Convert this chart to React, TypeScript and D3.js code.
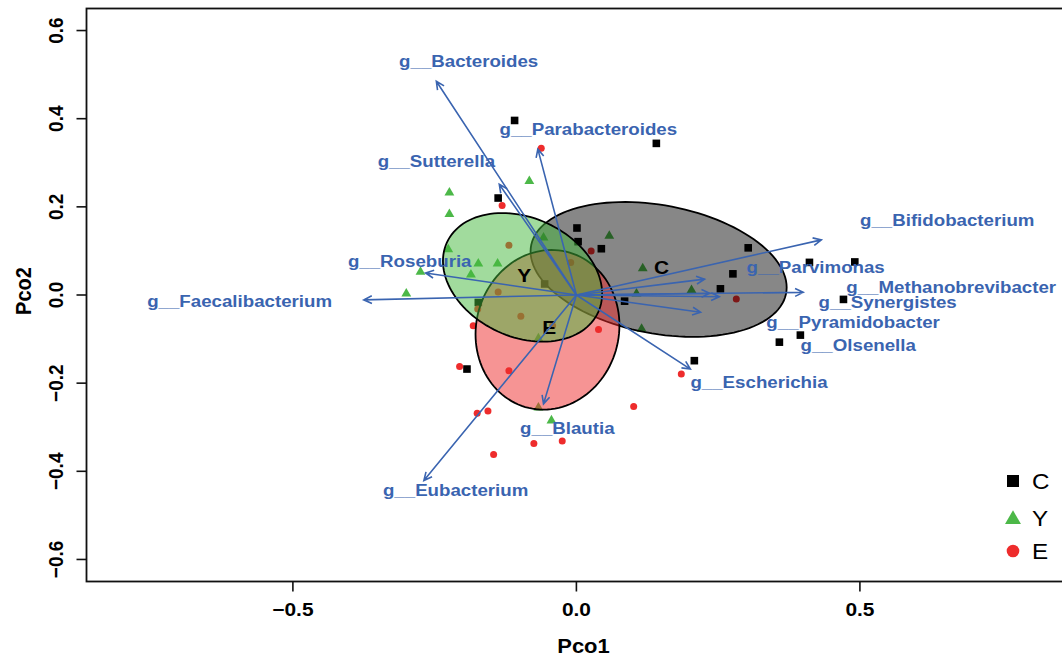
import * as d3 from 'd3';

// axis ranges and ticks
const xLim = [-0.864, 0.864];
const yLim = [-0.65, 0.65];
const xTicks = [-0.5, 0, 0.5];
const yTicks = [-0.6, -0.4, -0.2, 0, 0.2, 0.4, 0.6];

// sample scores per group (Pco1, Pco2)
const pointsC = [
  [-0.109, 0.396], [0.141, 0.344], [-0.138, 0.220], [0.001, 0.152], [0.003, 0.121],
  [0.044, 0.105], [0.303, 0.107], [0.276, 0.048], [0.254, 0.014], [0.411, 0.074],
  [0.491, 0.075], [0.471, -0.010], [0.395, -0.091], [0.358, -0.107], [0.208, -0.149],
  [-0.193, -0.168], [0.085, -0.014], [-0.173, -0.017], [-0.056, 0.025],
];
const pointsY = [
  [-0.224, 0.234], [-0.224, 0.185], [-0.083, 0.260], [-0.226, 0.105], [-0.173, 0.073],
  [-0.139, 0.073], [-0.186, 0.048], [-0.300, 0.005], [-0.275, 0.054], [-0.058, 0.132],
  [0.058, 0.136], [0.117, 0.062], [0.203, 0.013], [0.115, -0.075], [-0.044, -0.283],
  [-0.067, -0.097], [-0.067, -0.254], [0.106, 0.005],
];
const pointsE = [
  [-0.062, 0.333], [-0.131, 0.203], [-0.119, 0.113], [-0.010, 0.074], [-0.138, 0.007],
  [-0.174, -0.032], [-0.098, -0.048], [0.026, 0.100], [-0.182, -0.070], [-0.042, -0.070],
  [0.039, -0.078], [-0.206, -0.162], [-0.119, -0.172], [-0.175, -0.268], [-0.156, -0.263],
  [-0.075, -0.337], [-0.025, -0.331], [-0.146, -0.362], [0.101, -0.253], [0.185, -0.179],
  [0.282, -0.009],
];

// group ellipses: centre and covariance (sxx, syy, sxy) in data units
const groupNames = ['C', 'E', 'Y'];
const groupCentres = { C: [0.145, 0.058], E: [-0.051, -0.079], Y: [-0.095, 0.040] };
const groupCov = {
  C: [0.0510, 0.0234, -0.0092],
  E: [0.0161, 0.0328, 0.0013],
  Y: [0.0197, 0.0213, -0.0052],
};
const groupLabelPos = { C: [0.150, 0.064], Y: [-0.092, 0.045], E: [-0.048, -0.072] };

// genus vectors: arrow tip and label position (baseline centre)
const genera = [
  'g__Bacteroides', 'g__Parabacteroides', 'g__Sutterella', 'g__Roseburia',
  'g__Faecalibacterium', 'g__Bifidobacterium', 'g__Parvimonas', 'g__Methanobrevibacter',
  'g__Synergistes', 'g__Pyramidobacter', 'g__Olsenella', 'g__Escherichia',
  'g__Blautia', 'g__Eubacterium',
];
const arrowTips = [
  [-0.247, 0.485], [-0.068, 0.331], [-0.136, 0.251], [-0.266, 0.050],
  [-0.375, -0.011], [0.432, 0.125], [0.226, 0.036], [0.400, 0.006],
  [0.252, -0.004], [0.219, -0.039], [0.235, 0.004], [0.201, -0.168],
  [-0.058, -0.247], [-0.269, -0.421],
];
const labelPos = [
  [-0.190, 0.518], [0.021, 0.364], [-0.247, 0.291], [-0.294, 0.064],
  [-0.594, -0.028], [0.654, 0.157], [0.422, 0.051], [0.661, 0.004],
  [0.549, -0.030], [0.488, -0.075], [0.497, -0.128], [0.322, -0.211],
  [-0.016, -0.315], [-0.213, -0.457],
];

const BLUE = '#3a64b0';
const FONT = '"Liberation Sans", Arial, Helvetica, sans-serif';
const SX = 1.1; // the source image is slightly stretched horizontally
const fills = { C: 'rgba(0,0,0,0.47)', E: 'rgba(238,42,42,0.5)', Y: 'rgba(68,184,60,0.5)' };

export default function App() {
  const width = 1062;
  const height = 659;
  const x = d3.scaleLinear().domain(xLim).range([86.5, 1066.3]);
  const y = d3.scaleLinear().domain(yLim).range([581.5, 8.5]);

  const fmt = (v) => d3.format('.1f')(v).replace('-', '\u2212');

  const ellipse = (g) => {
    const [cx, cy] = groupCentres[g];
    const [sxx, syy, sxy] = groupCov[g];
    const l11 = Math.sqrt(sxx);
    const l21 = sxy / l11;
    const l22 = Math.sqrt(syy - l21 * l21);
    const pts = d3.range(0, 2 * Math.PI, Math.PI / 60).map(t => [
      cx + l11 * Math.cos(t),
      cy + l21 * Math.cos(t) + l22 * Math.sin(t),
    ]);
    return d3.line().x(d => x(d[0])).y(d => y(d[1])).curve(d3.curveLinearClosed)(pts);
  };

  const arrowPath = (tip) => {
    const x0 = x(0), y0 = y(0), x1 = x(tip[0]), y1 = y(tip[1]);
    const ang = Math.atan2(y1 - y0, x1 - x0);
    const len = 9, a = Math.PI / 7;
    const h1 = [x1 - len * Math.cos(ang - a), y1 - len * Math.sin(ang - a)];
    const h2 = [x1 - len * Math.cos(ang + a), y1 - len * Math.sin(ang + a)];
    return `M${x0},${y0}L${x1},${y1}M${h1[0]},${h1[1]}L${x1},${y1}L${h2[0]},${h2[1]}`;
  };

  const tri = d3.symbol().type(d3.symbolTriangle).size(42)();
  const triBig = d3.symbol().type(d3.symbolTriangle).size(110)();

  return (
    <svg width={width} height={height} style={{ position: 'absolute', left: 0, top: 0, background: '#fff' }}>
      {/* points, under the ellipses */}
      <g>
        {pointsC.map((d, i) => (
          <rect key={`c-${i}`} x={x(d[0]) - 3.8} y={y(d[1]) - 3.8} width={7.6} height={7.6} fill="#000" />
        ))}
        {pointsY.map((d, i) => (
          <path key={`y-${i}`} d={tri} transform={`translate(${x(d[0])},${y(d[1]) + 0.8})`} fill="#4cb848" />
        ))}
        {pointsE.map((d, i) => (
          <circle key={`e-${i}`} cx={x(d[0])} cy={y(d[1])} r={3.5} fill="#ee2c2c" />
        ))}
      </g>

      {/* group ellipses */}
      <g>
        {groupNames.map(g => (
          <path key={g} d={ellipse(g)} fill={fills[g]} stroke="#000" strokeWidth={1.8} />
        ))}
      </g>

      {/* group labels */}
      {groupNames.map(g => (
        <text key={`gl-${g}`} fontFamily={FONT} fontWeight="bold" fontSize={19} textAnchor="middle"
          transform={`translate(${x(groupLabelPos[g][0])},${y(groupLabelPos[g][1]) + 7}) scale(${SX},1)`}>
          {g}
        </text>
      ))}

      {/* genus arrows */}
      <g>
        {arrowTips.map((t, i) => (
          <path key={`a-${i}`} d={arrowPath(t)} fill="none" stroke={BLUE} strokeWidth={1.6} />
        ))}
      </g>
      <g>
        {genera.map((name, i) => (
          <text key={`l-${i}`} fontFamily={FONT} fontWeight="bold" fontSize={17} fill={BLUE} textAnchor="middle"
            transform={`translate(${x(labelPos[i][0])},${y(labelPos[i][1])}) scale(${SX},1)`}>
            {name}
          </text>
        ))}
      </g>

      {/* box */}
      <rect x={86.5} y={8.5} width={1066.3 - 86.5} height={581.5 - 8.5} fill="none" stroke="#111" strokeWidth={1.8} />

      {/* y axis */}
      <g>
        {yTicks.map(t => (
          <g key={`yt-${t}`}>
            <line x1={76.5} x2={86.5} y1={y(t)} y2={y(t)} stroke="#111" strokeWidth={1.6} />
            <text fontFamily={FONT} fontWeight="bold" fontSize={19} textAnchor="middle"
              transform={`translate(63,${y(t)}) rotate(-90) scale(1,${SX})`}>
              {fmt(t)}
            </text>
          </g>
        ))}
        <text fontFamily={FONT} fontWeight="bold" fontSize={20} textAnchor="middle"
          transform={`translate(31,291) rotate(-90) scale(1,${SX})`}>
          Pco2
        </text>
      </g>

      {/* x axis */}
      <g>
        {xTicks.map(t => (
          <g key={`xt-${t}`}>
            <line x1={x(t)} x2={x(t)} y1={581.5} y2={591.5} stroke="#111" strokeWidth={1.6} />
            <text fontFamily={FONT} fontWeight="bold" fontSize={19} textAnchor="middle"
              transform={`translate(${x(t)},616) scale(${SX},1)`}>
              {fmt(t)}
            </text>
          </g>
        ))}
        <text fontFamily={FONT} fontWeight="bold" fontSize={20} textAnchor="middle"
          transform={`translate(583.5,653) scale(${SX},1)`}>
          Pco1
        </text>
      </g>

      {/* legend */}
      <g fontFamily={FONT} fontSize={22}>
        <rect x={1007} y={475} width={12} height={12} fill="#000" />
        <text transform={`translate(1032,489) scale(${SX},1)`}>C</text>
        <path d={triBig} transform={`translate(1013,519.5)`} fill="#4cb848" />
        <text transform={`translate(1032,526) scale(${SX},1)`}>Y</text>
        <circle cx={1013} cy={551} r={6.3} fill="#ee2c2c" />
        <text transform={`translate(1032,559) scale(${SX},1)`}>E</text>
      </g>
    </svg>
  );
}
